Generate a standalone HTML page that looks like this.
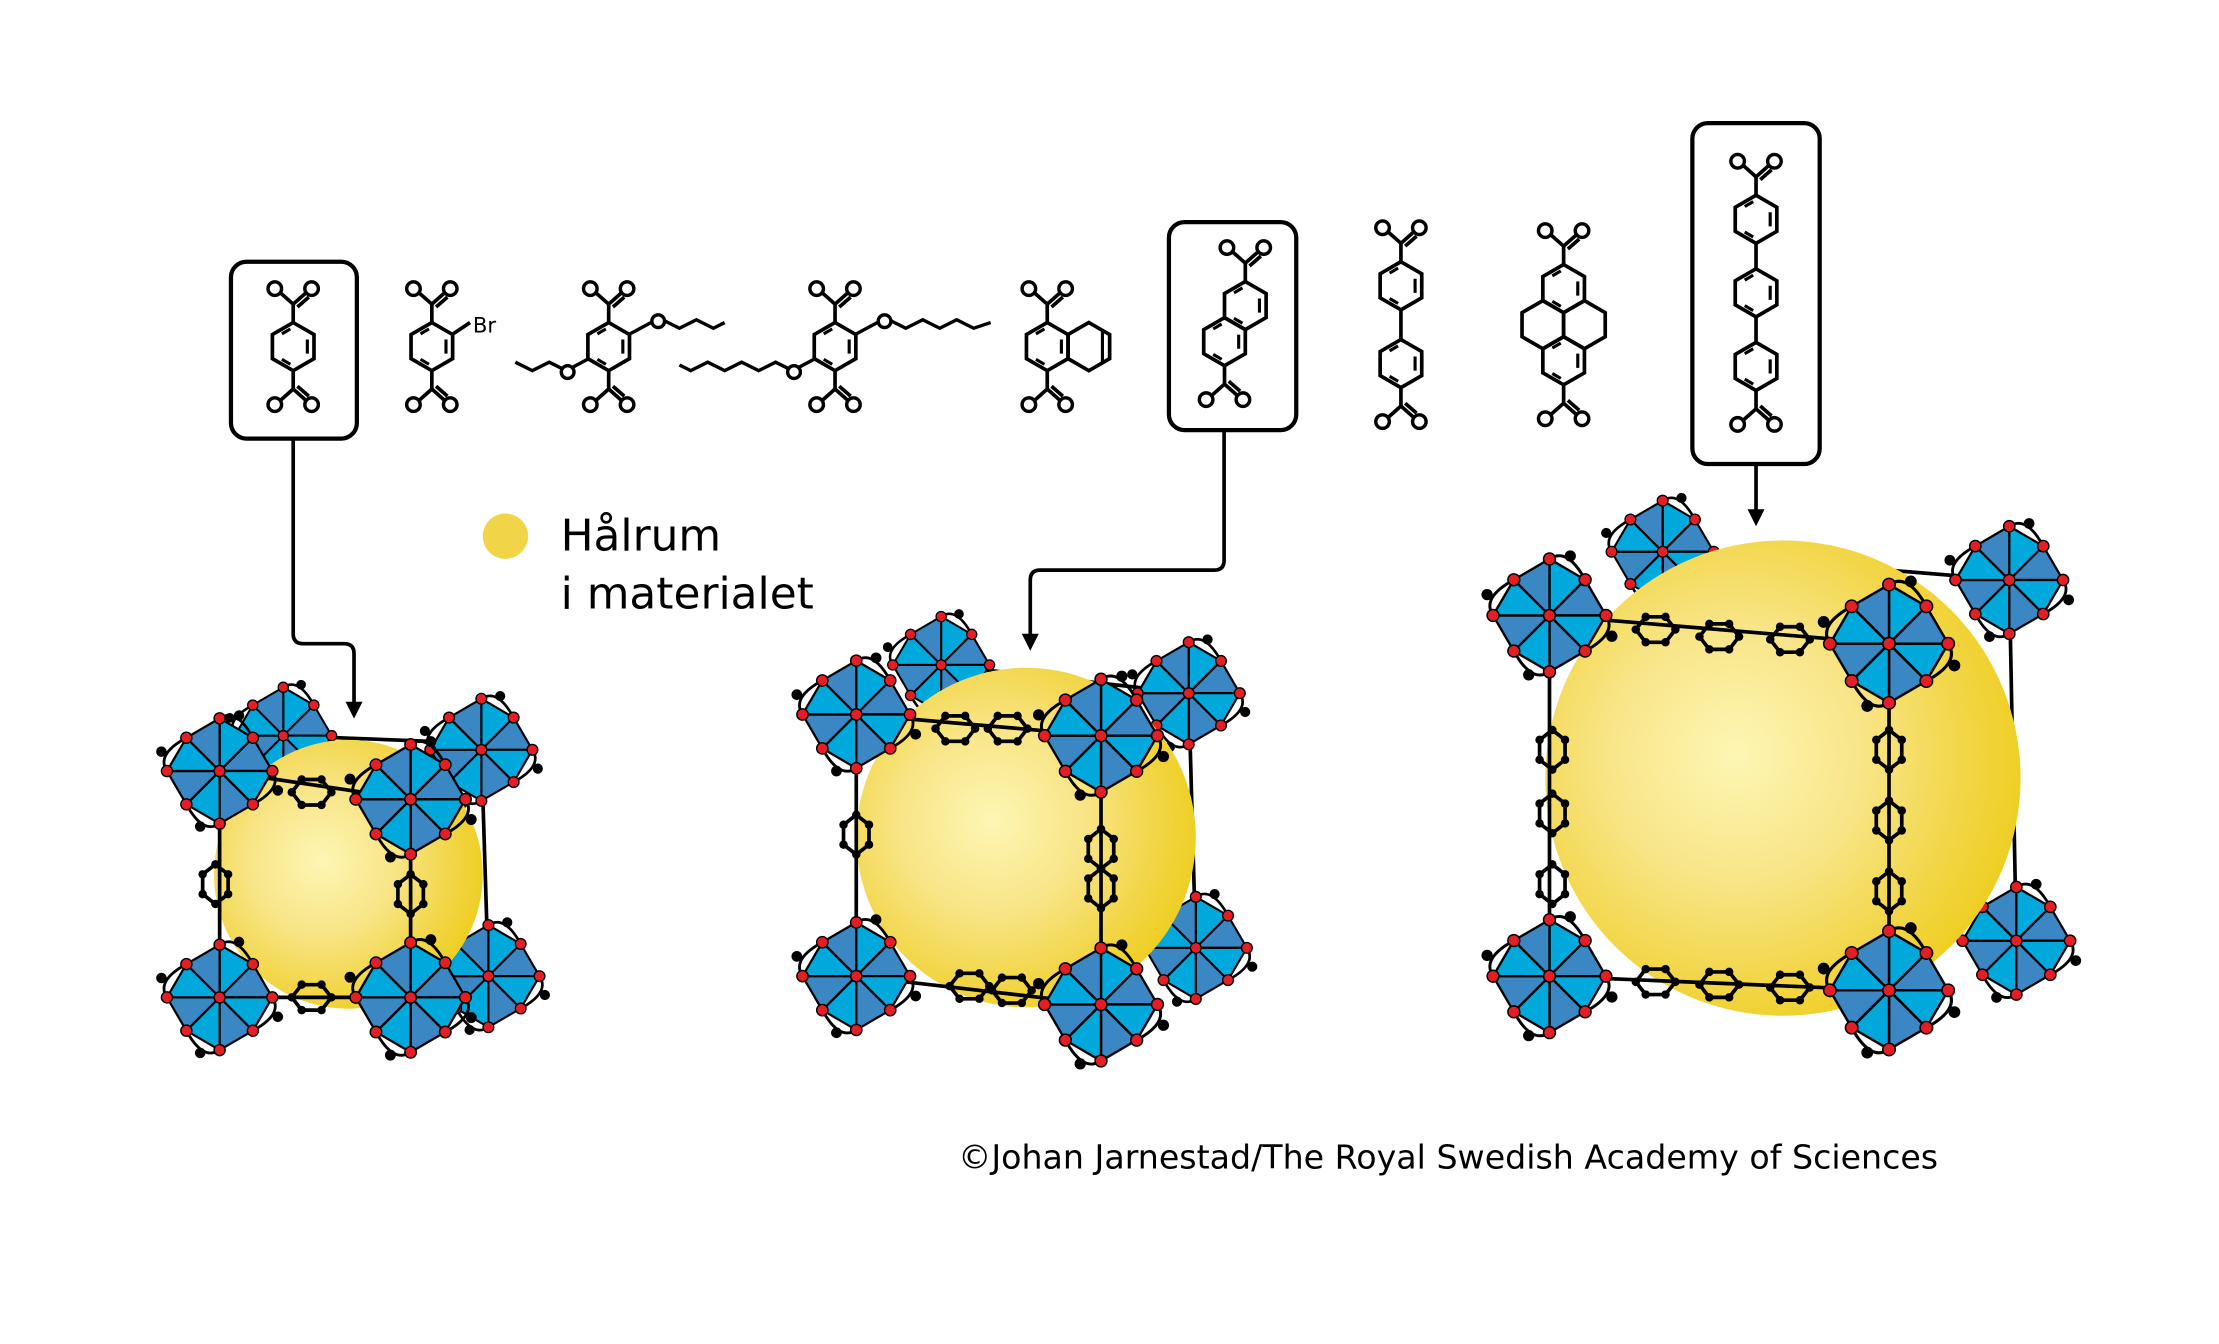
<!DOCTYPE html>
<html><head><meta charset="utf-8"><style>
html,body{margin:0;padding:0;background:#fff;}
svg{display:block;}
text{font-family:"DejaVu Sans","Liberation Sans",sans-serif;}
</style></head><body>
<svg width="2219" height="1344" viewBox="0 0 1568 950" xmlns="http://www.w3.org/2000/svg">
<defs>
<radialGradient id="sg" cx="0.4" cy="0.45" r="0.6">
<stop offset="0" stop-color="#fdf6b4"/><stop offset="0.45" stop-color="#f8e587"/><stop offset="0.8" stop-color="#f2d648"/><stop offset="1" stop-color="#efcf26"/>
</radialGradient>
<g id="hex"><polygon points="0,-17 14.7,-8.5 14.7,8.5 0,17 -14.7,8.5 -14.7,-8.5" fill="none" stroke="#000" stroke-width="2.6"/></g>
<g id="hexd"><use href="#hex"/><path d="M10,-5 L10,5 M-8,-9 L-2,-12.5 M-8,9 L-2,12.5" stroke="#000" stroke-width="2.2"/></g>
<g id="cu"><path d="M0,0 L0,-13 L-9,-21 M0,-13 L9,-21 M3,-11 L11,-18" stroke="#000" stroke-width="2.6" fill="none"/><circle cx="-13" cy="-24" r="4.8" fill="#fff" stroke="#000" stroke-width="2.4"/><circle cx="13" cy="-24" r="4.8" fill="#fff" stroke="#000" stroke-width="2.4"/></g>
<g id="cd"><use href="#cu" transform="scale(1,-1)"/></g>
<g id="bdc"><use href="#hexd"/><use href="#cu" transform="translate(0,-17)"/><use href="#cd" transform="translate(0,17)"/></g>
<g id="clu" stroke="#000" stroke-width="1.6" stroke-linejoin="round">
<polygon points="0,0 0,-38 24,-24" fill="#00a8dc"/><polygon points="0,0 24,-24 38,0" fill="#3a87c4"/>
<polygon points="0,0 38,0 24,24" fill="#00a8dc"/><polygon points="0,0 24,24 0,38" fill="#3a87c4"/>
<polygon points="0,0 0,38 -24,24" fill="#00a8dc"/><polygon points="0,0 -24,24 -38,0" fill="#3a87c4"/>
<polygon points="0,0 -38,0 -24,-24" fill="#00a8dc"/><polygon points="0,0 -24,-24 0,-38" fill="#3a87c4"/>
<path d="M0,-38 Q12,-46 24,-24 M38,0 Q46,12 24,24 M0,38 Q-12,46 -24,24 M-38,0 Q-46,-12 -24,-24" fill="none" stroke-width="2"/>
<g fill="#e31e24" stroke="#000" stroke-width="1"><circle cx="0" cy="-38" r="4"/><circle cx="24" cy="-24" r="4"/><circle cx="38" cy="0" r="4"/><circle cx="24" cy="24" r="4"/><circle cx="0" cy="38" r="4"/><circle cx="-24" cy="24" r="4"/><circle cx="-38" cy="0" r="4"/><circle cx="-24" cy="-24" r="4"/><circle cx="0" cy="0" r="4"/></g>
<g fill="#000"><circle cx="14" cy="-40" r="3"/><circle cx="42" cy="14" r="3"/><circle cx="-14" cy="40" r="3"/><circle cx="-42" cy="-14" r="3"/></g>
</g>
<g id="rh"><polygon points="-14,0 -7,-9 7,-9 14,0 7,9 -7,9" fill="none" stroke="#000" stroke-width="2.6"/><g fill="#000"><circle cx="-14" cy="0" r="3"/><circle cx="-7" cy="-9" r="3"/><circle cx="7" cy="-9" r="3"/><circle cx="14" cy="0" r="3"/><circle cx="7" cy="9" r="3"/><circle cx="-7" cy="9" r="3"/></g></g>
<g id="rv"><use href="#rh" transform="rotate(90)"/></g>
</defs>

<!-- top molecules -->
<rect x="163" y="185" width="89" height="125" rx="11" fill="none" stroke="#000" stroke-width="3"/>
<use href="#bdc" x="207" y="245"/>
<use href="#bdc" x="305" y="245"/>
<path d="M320,236 L332,228" stroke="#000" stroke-width="2.6"/><text x="334" y="235" font-size="15">Br</text>
<use href="#bdc" x="430" y="245"/>
<path d="M445,236 L460,228 M415,254 L400,262 L388,256 L376,262 L364,256 M468,226 L480,232 L492,226 L504,232 L512,228" stroke="#000" stroke-width="2.4" fill="none"/>
<circle cx="465" cy="227" r="4.5" fill="#fff" stroke="#000" stroke-width="2.4"/><circle cx="401" cy="263" r="4.5" fill="#fff" stroke="#000" stroke-width="2.4"/>
<use href="#bdc" x="590" y="245"/>
<path d="M605,236 L620,228 M575,254 L560,262 L548,256 L536,262 L524,256 L512,262 L500,256 L488,262 L480,258 M628,226 L640,232 L652,226 L664,232 L676,226 L688,232 L700,228" stroke="#000" stroke-width="2.4" fill="none"/>
<circle cx="625" cy="227" r="4.5" fill="#fff" stroke="#000" stroke-width="2.4"/><circle cx="561" cy="263" r="4.5" fill="#fff" stroke="#000" stroke-width="2.4"/>
<use href="#bdc" x="740" y="245"/><use href="#hex" x="769.4" y="245"/>
<path d="M779,233 L779,257 M766,230 L760,233" stroke="#000" stroke-width="2.2"/>
<rect x="826" y="157" width="90" height="147" rx="11" fill="none" stroke="#000" stroke-width="3"/>
<use href="#hexd" x="880" y="216"/><use href="#hexd" x="865.3" y="241.5"/>
<use href="#cu" x="880" y="199"/><use href="#cd" x="865.3" y="258.5"/>
<use href="#hexd" x="990" y="202"/><use href="#hexd" x="990" y="257"/>
<path d="M990,219 L990,240" stroke="#000" stroke-width="2.6"/>
<use href="#cu" x="990" y="185"/><use href="#cd" x="990" y="274"/>
<use href="#hexd" x="1105" y="204"/><use href="#hexd" x="1105" y="255"/>
<use href="#hex" x="1090.3" y="229.5"/><use href="#hex" x="1119.7" y="229.5"/>
<use href="#cu" x="1105" y="187"/><use href="#cd" x="1105" y="272"/>
<rect x="1196" y="87" width="90" height="241" rx="11" fill="none" stroke="#000" stroke-width="3"/>
<use href="#hexd" x="1241" y="155"/><use href="#hexd" x="1241" y="207"/><use href="#hexd" x="1241" y="259"/>
<path d="M1241,172 L1241,190 M1241,224 L1241,242" stroke="#000" stroke-width="2.6"/>
<use href="#cu" x="1241" y="138"/><use href="#cd" x="1241" y="276"/>

<!-- connectors -->
<g stroke="#000" stroke-width="2.6" fill="none">
<path d="M207,310 L207,448 Q207,455 214,455 L243,455 Q250,455 250,462 L250,500"/>
<path d="M865,304 L865,396 Q865,403 858,403 L735,403 Q728,403 728,410 L728,452"/>
<path d="M1241,328 L1241,365"/>
</g>
<polygon points="244,496 256,496 250,508" fill="#000"/>
<polygon points="722,448 734,448 728,460" fill="#000"/>
<polygon points="1235,360 1247,360 1241,372" fill="#000"/>

<!-- legend -->
<circle cx="357" cy="379" r="16" fill="#f2d449"/>
<text x="396" y="389" font-size="31">Hålrum</text>
<text x="396" y="430" font-size="31">i materialet</text>
<text x="677" y="826" font-size="23.5">©Johan Jarnestad/The Royal Swedish Academy of Sciences</text>

<!-- MOF 1 -->
<g stroke="#000" stroke-width="2.6" fill="none"><path d="M340,530 L345,690 M200,520 L330,525"/></g>
<use href="#clu" transform="translate(340,530) scale(0.95)"/>
<use href="#clu" transform="translate(345,690) scale(0.95)"/>
<use href="#clu" transform="translate(200,520) scale(0.9)"/>
<circle cx="246" cy="618" r="95" fill="url(#sg)"/>
<g stroke="#000" stroke-width="2.6" fill="none"><path d="M155,545 L290,565 M290,565 L290,705 M155,545 L155,705 M155,705 L290,705"/></g>
<use href="#rh" x="220" y="560"/><use href="#rv" x="290" y="632"/><use href="#rv" x="152" y="625"/><use href="#rh" x="220" y="705"/>
<use href="#clu" transform="translate(155,545) scale(0.98)"/>
<use href="#clu" transform="translate(290,565) scale(1.02)"/>
<use href="#clu" transform="translate(155,705) scale(0.98)"/>
<use href="#clu" transform="translate(290,705) scale(1.02)"/>

<!-- MOF 2 -->
<g stroke="#000" stroke-width="2.6" fill="none"><path d="M665,470 L840,490 M840,490 L845,670"/></g>
<use href="#clu" transform="translate(665,470) scale(0.9)"/>
<use href="#clu" transform="translate(840,490) scale(0.95)"/>
<use href="#clu" transform="translate(845,670) scale(0.95)"/>
<circle cx="725" cy="592" r="120" fill="url(#sg)"/>
<g stroke="#000" stroke-width="2.6" fill="none"><path d="M605,505 L778,520 M778,520 L778,710 M605,505 L605,690 M605,690 L778,710"/></g>
<use href="#rh" x="675" y="515"/><use href="#rh" x="712" y="515"/><use href="#rv" x="778" y="600"/><use href="#rv" x="778" y="628"/>
<use href="#rv" x="605" y="590"/><use href="#rh" x="685" y="697"/><use href="#rh" x="715" y="700"/>
<use href="#clu" transform="translate(605,505) scale(1.0)"/>
<use href="#clu" transform="translate(778,520) scale(1.05)"/>
<use href="#clu" transform="translate(605,690) scale(1.0)"/>
<use href="#clu" transform="translate(778,710) scale(1.05)"/>

<!-- MOF 3 -->
<g stroke="#000" stroke-width="2.6" fill="none"><path d="M1175,390 L1420,410 M1420,410 L1425,665"/></g>
<use href="#clu" transform="translate(1175,390) scale(0.95)"/>
<use href="#clu" transform="translate(1420,410) scale(1.0)"/>
<use href="#clu" transform="translate(1425,665) scale(1.0)"/>
<circle cx="1260" cy="550" r="168" fill="url(#sg)"/>
<g stroke="#000" stroke-width="2.6" fill="none"><path d="M1095,435 L1335,455 M1335,455 L1335,700 M1095,435 L1095,690 M1095,690 L1335,700"/></g>
<use href="#rh" x="1170" y="445"/><use href="#rh" x="1215" y="450"/><use href="#rh" x="1265" y="452"/>
<use href="#rv" x="1335" y="530"/><use href="#rv" x="1335" y="580"/><use href="#rv" x="1335" y="630"/>
<use href="#rv" x="1097" y="530"/><use href="#rv" x="1097" y="575"/><use href="#rv" x="1097" y="625"/>
<use href="#rh" x="1170" y="694"/><use href="#rh" x="1215" y="696"/><use href="#rh" x="1265" y="698"/>
<use href="#clu" transform="translate(1095,435) scale(1.05)"/>
<use href="#clu" transform="translate(1335,455) scale(1.1)"/>
<use href="#clu" transform="translate(1095,690) scale(1.05)"/>
<use href="#clu" transform="translate(1335,700) scale(1.1)"/>
</svg>
</body></html>
